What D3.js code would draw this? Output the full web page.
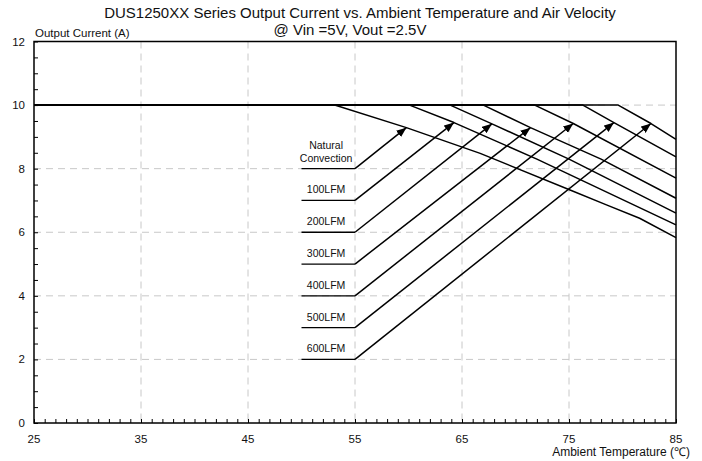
<!DOCTYPE html>
<html>
<head>
<meta charset="utf-8">
<script src="https://cdn.jsdelivr.net/npm/d3@7"></script>
<style>
body{margin:0;background:#fff;}
svg{display:block;font-family:"Liberation Sans",Arial,sans-serif;}
</style>
</head>
<body>
<svg id="chart" width="702" height="461"></svg>
<script>
const titleText = "DUS1250XX Series Output Current vs. Ambient Temperature and Air Velocity";
const subtitleText = "@ Vin =5V, Vout =2.5V";
const xTicks = [25, 35, 45, 55, 65, 75, 85];
const yTicks = [0, 2, 4, 6, 8, 10, 12];
const seriesNames = ["Natural Convection", "100LFM", "200LFM", "300LFM", "400LFM", "500LFM", "600LFM"];
// derating curves: [temperature, current]
const curveNC   = [[25,10],[53.1,10],[59.8,9.29],[66.7,8.48],[75.1,7.33],[78.5,6.86],[81.6,6.44],[85,5.83]];
const curve100  = [[25,10],[60.1,10],[64.25,9.45],[72,8.3],[85,6.23]];
const curve200  = [[25,10],[63.9,10],[67.8,9.41],[75,8.3],[85,6.6]];
const curve300  = [[25,10],[67.0,10],[71.4,9.29],[78,8.3],[85,7.07]];
const curve400  = [[25,10],[71.8,10],[75.4,9.42],[85,7.7]];
const curve500  = [[25,10],[76.3,10],[79.2,9.45],[85,8.37]];
const curve600  = [[25,10],[79.6,10],[82.66,9.42],[85,8.92]];
const curves = [curveNC, curve100, curve200, curve300, curve400, curve500, curve600];
// annotation: label level (A) and arrow tip [temp, current]
const labelLevels = [8, 7, 6, 5, 4, 3, 2];
const arrowTips = [[59.8,9.29],[64.25,9.45],[67.8,9.41],[71.4,9.29],[75.4,9.42],[79.2,9.45],[82.66,9.42]];
const underlineFrom = 50, underlineTo = 55, labelCenter = 52.3;

const svg = d3.select("#chart");
const x = d3.scaleLinear().domain([25, 85]).range([34, 676]);
const y = d3.scaleLinear().domain([0, 12]).range([423, 41.5]);

// grid
const g = svg.append("g");
g.selectAll(".vg").data(xTicks.slice(1, -1)).enter().append("line")
  .attr("x1", d => x(d)).attr("x2", d => x(d)).attr("y1", y(12)).attr("y2", y(0))
  .attr("stroke", "#c8c8c8").attr("stroke-width", 1).attr("stroke-dasharray", "7,5");
g.selectAll(".hg").data(yTicks.slice(1, -1)).enter().append("line")
  .attr("x1", x(25)).attr("x2", x(85)).attr("y1", d => y(d)).attr("y2", d => y(d))
  .attr("stroke", "#c8c8c8").attr("stroke-width", 1).attr("stroke-dasharray", "7,5");

// curves
const line = d3.line().x(d => x(d[0])).y(d => y(d[1]));
svg.selectAll(".curve").data(curves).enter().append("path")
  .attr("d", line).attr("fill", "none").attr("stroke", "#000").attr("stroke-width", 1.5)
  .attr("stroke-linejoin", "round");

// arrow marker
svg.append("defs").append("marker")
  .attr("id", "arr").attr("markerUnits", "userSpaceOnUse")
  .attr("viewBox", "0 0 10 8").attr("refX", 10).attr("refY", 4)
  .attr("markerWidth", 10).attr("markerHeight", 8).attr("orient", "auto")
  .append("path").attr("d", "M0,0L10,4L0,8Z").attr("fill", "#000");

// annotations
const ann = svg.append("g");
labelLevels.forEach((lv, i) => {
  ann.append("line").attr("x1", x(underlineFrom)).attr("x2", x(underlineTo))
    .attr("y1", y(lv)).attr("y2", y(lv)).attr("stroke", "#000").attr("stroke-width", 1.3);
  ann.append("line").attr("x1", x(underlineTo)).attr("y1", y(lv))
    .attr("x2", x(arrowTips[i][0])).attr("y2", y(arrowTips[i][1]))
    .attr("stroke", "#000").attr("stroke-width", 1.5).attr("marker-end", "url(#arr)");
  const words = seriesNames[i].split(" ");
  const t = ann.append("text").attr("text-anchor", "middle").attr("font-size", 10.5).attr("fill", "#111");
  words.forEach((w, k) => {
    t.append("tspan").attr("x", x(labelCenter))
      .attr("y", y(lv) - 7 - (words.length - 1 - k) * 13).text(w);
  });
});

// axes (inward ticks)
const xMinor = d3.range(25, 86, 1);
const yMinor = d3.range(0, 12.01, 0.5);
svg.append("g").attr("transform", `translate(0,${y(0)})`)
  .call(d3.axisBottom(x).tickValues(xMinor).tickSize(-4).tickFormat(""))
  .call(s => s.select(".domain").remove())
  .selectAll("line").attr("stroke", "#000").attr("stroke-width", 1);
svg.append("g").attr("transform", `translate(${x(25)},0)`)
  .call(d3.axisLeft(y).tickValues(yMinor).tickSize(-4).tickFormat(""))
  .call(s => s.select(".domain").remove())
  .selectAll("line").attr("stroke", "#000").attr("stroke-width", 1);

// frame
svg.append("rect").attr("x", x(25)).attr("y", y(12)).attr("width", x(85) - x(25)).attr("height", y(0) - y(12))
  .attr("fill", "none").attr("stroke", "#000").attr("stroke-width", 1.5);

// tick labels
svg.selectAll(".xl").data(xTicks).enter().append("text")
  .attr("x", d => x(d)).attr("y", 443).attr("text-anchor", "middle")
  .attr("font-size", 11.5).attr("fill", "#111").text(d => d);
svg.selectAll(".yl").data(yTicks).enter().append("text")
  .attr("x", 25).attr("y", d => y(d) + 4).attr("text-anchor", "end")
  .attr("font-size", 11.5).attr("fill", "#111").text(d => d);

// titles
svg.append("text").attr("x", 360).attr("y", 18).attr("text-anchor", "middle")
  .attr("font-size", 15).attr("fill", "#111").text(titleText);
svg.append("text").attr("x", 350).attr("y", 35).attr("text-anchor", "middle")
  .attr("font-size", 15).attr("fill", "#111").text(subtitleText);
svg.append("text").attr("x", 35).attr("y", 37).attr("font-size", 11.5)
  .attr("fill", "#111").text("Output Current (A)");
svg.append("text").attr("x", 690).attr("y", 456).attr("text-anchor", "end")
  .attr("font-size", 12).attr("fill", "#111").text("Ambient Temperature (℃)");
</script>
</body>
</html>
